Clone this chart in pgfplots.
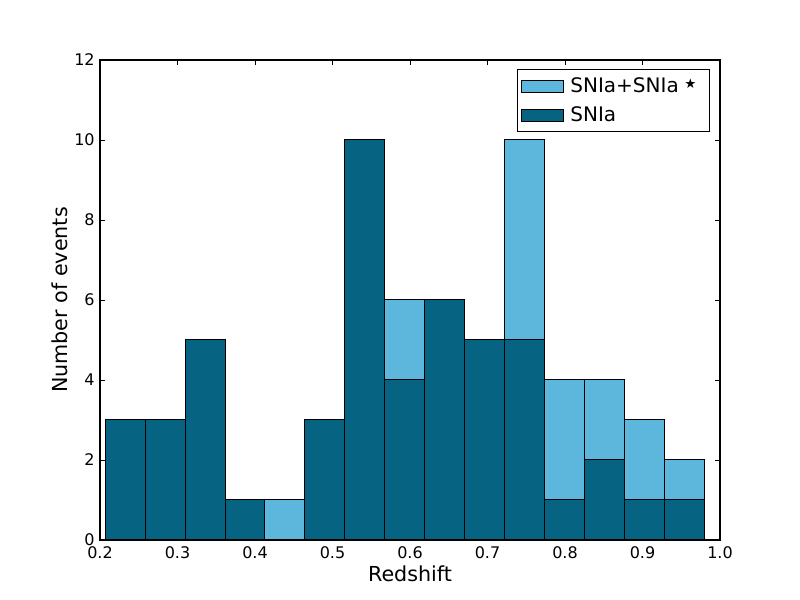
\documentclass[border=0pt]{standalone}
\usepackage{pgfplots}
\pgfplotsset{compat=1.18}
\usepackage{fontspec}
\setmainfont{DejaVu Sans}
\definecolor{light}{RGB}{93,182,219}
\definecolor{dark}{RGB}{6,100,130}
\begin{document}
\begin{tikzpicture}
\path[use as bounding box] (-75pt,-45pt) rectangle (525pt,405pt);
\begin{axis}[at={(0,0)}, anchor=south west, scale only axis,
  width=465pt, height=360pt,
  xmin=0.2, xmax=1.0, ymin=0, ymax=12,
  xtick={0.2,0.3,0.4,0.5,0.6,0.7,0.8,0.9,1.0},
  xticklabels={0.2,0.3,0.4,0.5,0.6,0.7,0.8,0.9,1.0},
  ytick={0,2,4,6,8,10,12},
  /pgf/number format/assume math mode=true,
  tick label style={font=\fontsize{12}{14}\selectfont},
  xticklabel style={yshift=-1.5pt},
  yticklabel style={xshift=-0.5pt},
  label style={font=\fontsize{15.5}{18}\selectfont},
  xlabel={Redshift}, ylabel={Number of events},
  xlabel style={yshift=2pt},
  ylabel style={yshift=-2pt},
  tick align=inside, major tick length=4pt,
  tick style={black, line width=0.6pt},
  axis line style={black, line width=0.8pt},
  legend cell align=left,
  legend image code/.code={\draw[#1] (0pt,-4.5pt) rectangle (31pt,4.5pt);},
  legend style={at={(1,1)}, anchor=north east, xshift=-7.5pt, yshift=-7pt,
    draw=black, line width=0.75pt, font=\fontsize{15}{17}\selectfont,
    row sep=5pt, inner xsep=3pt, inner ysep=4pt,
    nodes={inner xsep=5pt}},
]
\addplot[ybar interval, fill=light, draw=black, line width=0.75pt]
  coordinates {
  (0.2065,3) (0.2581,3) (0.3097,5) (0.3613,1) (0.4129,1)
  (0.4645,3) (0.5161,10) (0.5677,6) (0.6193,6) (0.6709,5)
  (0.7225,10) (0.7741,4) (0.8257,4) (0.8773,3) (0.9289,2) (0.9805,0)
  };
\addlegendentry{SNIa+SNIa\,{\fontsize{20}{17}\selectfont ⋆}}
\addplot[ybar interval, fill=dark, draw=black, line width=0.75pt]
  coordinates {
  (0.2065,3) (0.2581,3) (0.3097,5) (0.3613,1) (0.4129,0)
  (0.4645,3) (0.5161,10) (0.5677,4) (0.6193,6) (0.6709,5)
  (0.7225,5) (0.7741,1) (0.8257,2) (0.8773,1) (0.9289,1) (0.9805,0)
  };
\addlegendentry{SNIa}
\end{axis}
\end{tikzpicture}
\end{document}
